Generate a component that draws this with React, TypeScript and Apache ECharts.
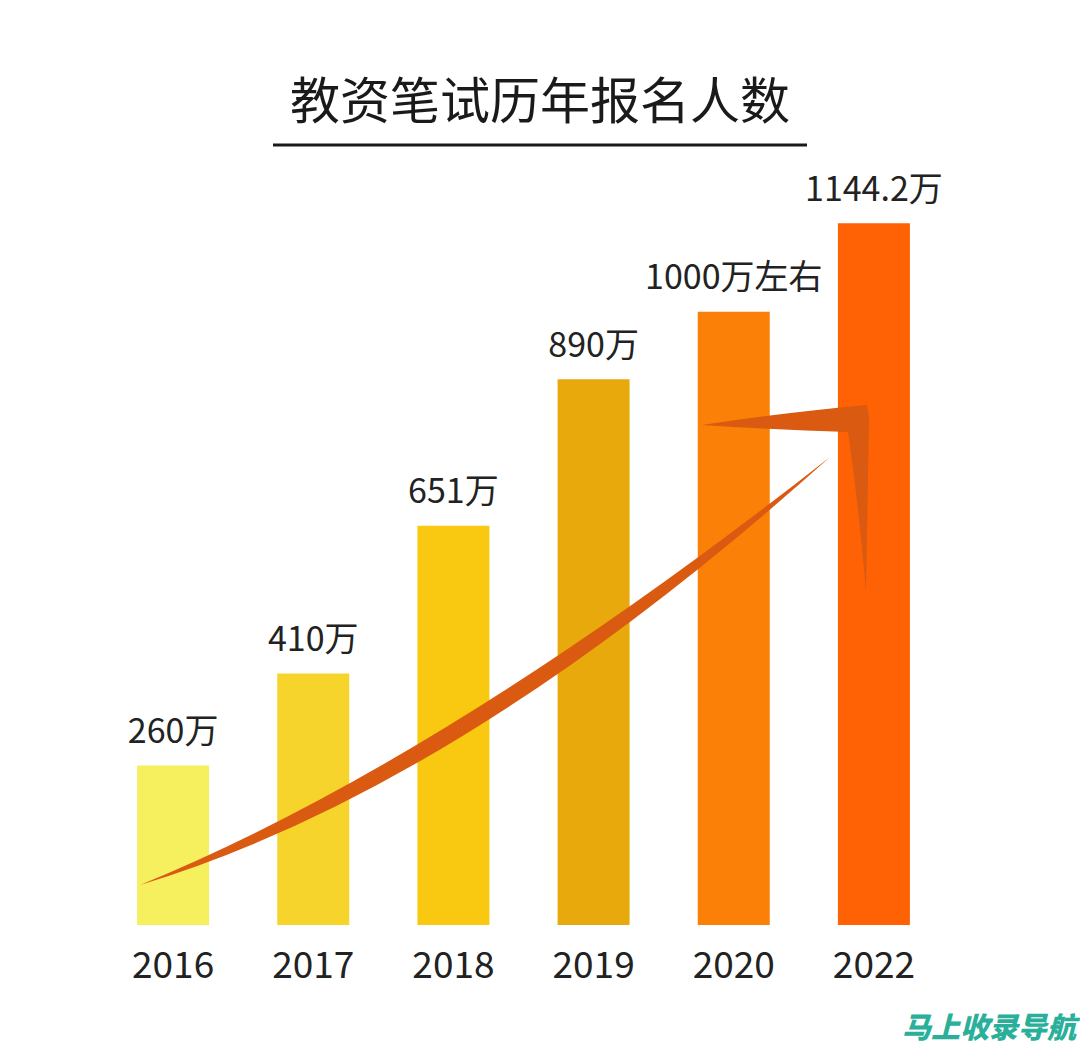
import React, { useEffect, useRef } from "react";
import * as echarts from "echarts";

const years = ["2016", "2017", "2018", "2019", "2020", "2022"];
const applicants = [260, 410, 651, 890, 1000, 1144.2];
const valueLabels = ["260万", "410万", "651万", "890万", "1000万左右", "1144.2万"];
const barColors = ["#F6F05E", "#F6D42C", "#F9C811", "#E8A90C", "#FA8008", "#FF6205"];
const titleText = "教资笔试历年报名人数";
const watermark = "马上收录导航";

const FONT = "'Noto Sans CJK SC', 'Noto Sans', sans-serif";

const swooshPath = "M140,885 Q445,760 830,457 Q461,788 140,885 Z";
const hookPath = "M702,425 Q780,413 867,405 L869,418 L866,592 Q858,500 848,432 Q780,430 702,425 Z";

let registered = false;
function registerShapes() {
  if (registered) return;
  echarts.graphic.registerShape("swoosh", echarts.graphic.extendPath(swooshPath, {}));
  echarts.graphic.registerShape("hook", echarts.graphic.extendPath(hookPath, {}));
  registered = true;
}

export default function App() {
  const ref = useRef<HTMLDivElement>(null);
  useEffect(() => {
    document.body.style.margin = "0";
    registerShapes();
    const chart = echarts.init(ref.current!, null, { renderer: "svg" });
    chart.setOption({
      animation: false,
      backgroundColor: "#ffffff",
      grid: { left: 103, right: 136, top: 189, bottom: 125 },
      xAxis: {
        type: "category",
        data: years,
        axisLine: { show: false },
        axisTick: { show: false },
        axisLabel: { color: "#222", fontSize: 37, fontFamily: FONT, margin: 18 },
      },
      yAxis: {
        type: "value",
        min: 0,
        max: 1200,
        show: false,
        splitLine: { show: false },
      },
      series: [
        {
          type: "bar",
          barWidth: 72,
          data: applicants.map((v, i) => ({ value: v, itemStyle: { color: barColors[i] } })),
          label: {
            show: true,
            position: "top",
            distance: 20,
            color: "#222",
            fontSize: 34,
            fontFamily: FONT,
            formatter: (p: any) => valueLabels[p.dataIndex],
          },
        },
      ],
      graphic: [
        {
          type: "text",
          left: "center",
          top: 72,
          style: { text: titleText, fill: "#1a1a1a", fontSize: 50, fontFamily: FONT, letterSpacing: 1 },
        },
        {
          type: "line",
          shape: { x1: 273, y1: 145, x2: 807, y2: 145 },
          style: { stroke: "#1a1a1a", lineWidth: 3 },
        },
        { type: "swoosh", x: 0, y: 0, z: 100, style: { fill: "#D95A10" } },
        { type: "hook", x: 0, y: 0, z: 100, style: { fill: "#D95A10" } },
        {
          type: "text",
          right: 4,
          top: 1010,
          style: {
            text: watermark,
            fill: "#2AB09A",
            fontSize: 29,
            fontWeight: 900,
            fontStyle: "italic",
            fontFamily: FONT,
          },
        },
      ],
    });
    return () => chart.dispose();
  }, []);
  return <div ref={ref} style={{ width: 1080, height: 1050 }} />;
}
